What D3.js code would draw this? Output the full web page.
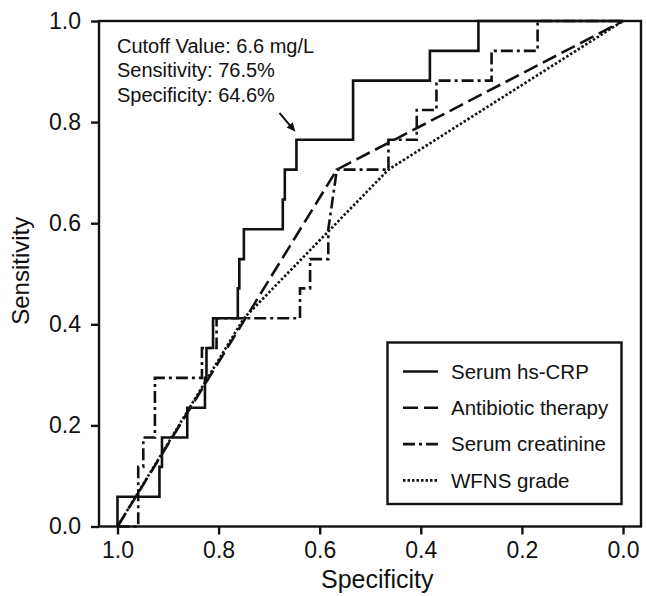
<!DOCTYPE html>
<html>
<head>
<meta charset="utf-8">
<script src="https://cdn.jsdelivr.net/npm/d3@7"></script>
<style>
    body { margin: 0; background: #fff; }
    svg { display: block; }
    text { font-family: "Liberation Sans", Arial, sans-serif; fill: #111; }
</style>
</head>
<body>
<div id="chart"></div>
<script>
// ROC coordinates (specificity, sensitivity)
const crpSpec = [1, 1, 0.917, 0.917, 0.912, 0.912, 0.862, 0.862, 0.827, 0.827, 0.824, 0.824, 0.811, 0.811, 0.762, 0.762, 0.759, 0.759, 0.750, 0.750, 0.673, 0.673, 0.669, 0.669, 0.646, 0.646, 0.534, 0.534, 0.382, 0.382, 0.286, 0.286, 0];
const crpSens = [0, 0.059, 0.059, 0.118, 0.118, 0.176, 0.176, 0.235, 0.235, 0.294, 0.294, 0.353, 0.353, 0.412, 0.412, 0.471, 0.471, 0.529, 0.529, 0.588, 0.588, 0.647, 0.647, 0.706, 0.706, 0.765, 0.765, 0.882, 0.882, 0.941, 0.941, 1, 1];

const antibioticSpec = [1, 0.566, 0];
const antibioticSens = [0, 0.706, 1];

const creatinineSpec = [1, 0.959, 0.959, 0.949, 0.949, 0.926, 0.926, 0.833, 0.833, 0.804, 0.804, 0.639, 0.639, 0.619, 0.619, 0.583, 0.583, 0.566, 0.464, 0.464, 0.408, 0.408, 0.369, 0.369, 0.260, 0.260, 0.169, 0.169, 0];
const creatinineSens = [0, 0, 0.118, 0.118, 0.176, 0.176, 0.294, 0.294, 0.353, 0.353, 0.412, 0.412, 0.471, 0.471, 0.529, 0.529, 0.588, 0.706, 0.706, 0.765, 0.765, 0.824, 0.824, 0.882, 0.882, 0.941, 0.941, 1, 1];

const wfnsSpec = [1, 0.75, 0.464, 0];
const wfnsSens = [0, 0.412, 0.706, 1];

const seriesNames = ["Serum hs-CRP", "Antibiotic therapy", "Serum creatinine", "WFNS grade"];
const tickValues = [0, 0.2, 0.4, 0.6, 0.8, 1.0];

const cutoff = {spec: 0.646, sens: 0.765};
const annotationLines = ["Cutoff Value: 6.6 mg/L", "Sensitivity: 76.5%", "Specificity: 64.6%"];

const width = 646;
const height = 596;
const box = {left: 99, right: 641, top: 21, bottom: 526.5};
const ink = "#111";
const lineWidth = 2.6;
const dashes = ["none", "15,6", "12,4,3,4", "2.5,2"];

const svg = d3.select("#chart").append("svg")
    .attr("width", width)
    .attr("height", height);

const x = d3.scaleLinear()
    .domain([1, 0])
    .range([117.5, 623]);

const y = d3.scaleLinear()
    .domain([0, 1])
    .range([box.bottom, box.top]);

// plot frame
svg.append("rect")
    .attr("x", box.left)
    .attr("y", box.top)
    .attr("width", box.right - box.left)
    .attr("height", box.bottom - box.top)
    .attr("fill", "none")
    .attr("stroke", ink)
    .attr("stroke-width", 2.4);

// axes
const yAxis = svg.append("g")
    .attr("transform", `translate(${box.left},0)`)
    .call(d3.axisLeft(y).tickValues(tickValues).tickFormat(d3.format(".1f")).tickSize(8).tickPadding(10).tickSizeOuter(0));

const xAxis = svg.append("g")
    .attr("transform", `translate(0,${box.bottom})`)
    .call(d3.axisBottom(x).tickValues(tickValues).tickFormat(d3.format(".1f")).tickSize(8).tickPadding(7).tickSizeOuter(0));

[xAxis, yAxis].forEach(a => {
    a.select(".domain").remove();
    a.selectAll(".tick line").attr("stroke", ink).attr("stroke-width", 2.4);
    a.selectAll(".tick text")
        .attr("fill", ink)
        .style("font-size", "23px")
        .style("font-family", "'Liberation Sans', Arial, sans-serif");
});

svg.append("text")
    .attr("x", (x(1) + x(0)) / 2 + 7)
    .attr("y", 588)
    .attr("text-anchor", "middle")
    .style("font-size", "25px")
    .text("Specificity");

svg.append("text")
    .attr("transform", `translate(29,${(box.top + box.bottom) / 2 - 3}) rotate(-90)`)
    .attr("text-anchor", "middle")
    .style("font-size", "24px")
    .text("Sensitivity");

// curves
const series = [
    {spec: crpSpec, sens: crpSens},
    {spec: antibioticSpec, sens: antibioticSens},
    {spec: creatinineSpec, sens: creatinineSens},
    {spec: wfnsSpec, sens: wfnsSens}
].map((s, i) => ({
    name: seriesNames[i],
    dash: dashes[i],
    points: s.spec.map((d, j) => [d, s.sens[j]])
}));

const line = d3.line()
    .x(d => x(d[0]))
    .y(d => y(d[1]));

svg.append("g")
    .selectAll("path")
    .data(series)
    .join("path")
    .attr("d", d => line(d.points))
    .attr("fill", "none")
    .attr("stroke", ink)
    .attr("stroke-width", lineWidth)
    .attr("stroke-linejoin", "miter")
    .attr("stroke-dasharray", d => d.dash);

// cutoff annotation
svg.append("g")
    .selectAll("text")
    .data(annotationLines)
    .join("text")
    .attr("x", 117)
    .attr("y", (d, i) => 53 + i * 24.3)
    .style("font-size", "20px")
    .text(d => d);

const tipX = x(cutoff.spec) - 1;
const tipY = y(cutoff.sens) - 8;
svg.append("line")
    .attr("x1", tipX - 16)
    .attr("y1", tipY - 19)
    .attr("x2", tipX - 3)
    .attr("y2", tipY - 3.5)
    .attr("stroke", ink)
    .attr("stroke-width", 2);
const ang = Math.atan2(19, 16);
const headLen = 9, headW = 4;
svg.append("path")
    .attr("d", d3.line()([
        [tipX, tipY],
        [tipX - headLen * Math.cos(ang) + headW * Math.sin(ang), tipY - headLen * Math.sin(ang) - headW * Math.cos(ang)],
        [tipX - headLen * Math.cos(ang) - headW * Math.sin(ang), tipY - headLen * Math.sin(ang) + headW * Math.cos(ang)]
    ]) + "Z")
    .attr("fill", ink);

// legend
const legend = svg.append("g");
legend.append("rect")
    .attr("x", 387.5)
    .attr("y", 342.5)
    .attr("width", 234)
    .attr("height", 161.5)
    .attr("fill", "#fff")
    .attr("stroke", ink)
    .attr("stroke-width", 2.4);

const rows = legend.selectAll("g")
    .data(series)
    .join("g")
    .attr("transform", (d, i) => `translate(403,${371.5 + i * 36.3})`);

rows.append("line")
    .attr("x1", 0)
    .attr("x2", 35)
    .attr("stroke", ink)
    .attr("stroke-width", lineWidth)
    .attr("stroke-dasharray", d => d.dash);

rows.append("text")
    .attr("x", 48)
    .attr("dy", "0.35em")
    .style("font-size", "20.5px")
    .text(d => d.name);
</script>
</body>
</html>
